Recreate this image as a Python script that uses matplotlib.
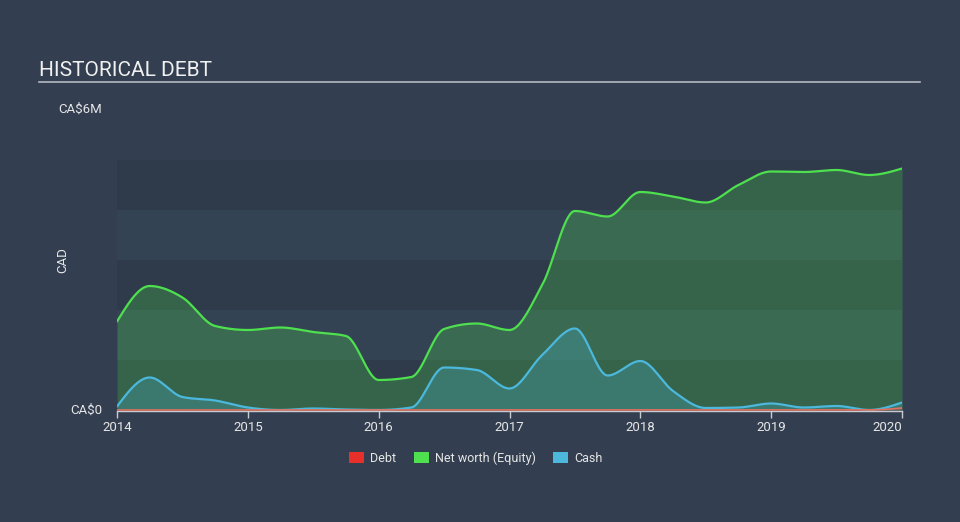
import numpy as np
import matplotlib
matplotlib.use("Agg")
import matplotlib.pyplot as plt
from matplotlib.patches import Rectangle
from matplotlib.lines import Line2D

# ---- data (CA$ millions, quarterly) ----
dates = [2014.0, 2014.25, 2014.5, 2014.75, 2015.0, 2015.25, 2015.5, 2015.75,
         2016.0, 2016.25, 2016.5, 2016.75, 2017.0, 2017.25, 2017.5, 2017.75,
         2018.0, 2018.25, 2018.5, 2018.75, 2019.0, 2019.25, 2019.5, 2019.75, 2020.0]
equity = [1.77, 2.48, 2.25, 1.68, 1.60, 1.65, 1.56, 1.48,
          0.60, 0.66, 1.62, 1.73, 1.60, 2.50, 3.98, 3.87,
          4.36, 4.27, 4.15, 4.50, 4.77, 4.76, 4.80, 4.70, 4.83]
cash = [0.07, 0.65, 0.26, 0.19, 0.05, 0.00, 0.03, 0.01,
        0.00, 0.05, 0.85, 0.80, 0.43, 1.10, 1.63, 0.69,
        0.98, 0.38, 0.04, 0.05, 0.13, 0.05, 0.08, 0.00, 0.15]
debt = [0, 0, 0, 0, 0, 0, 0, 0,
        0, 0, 0, 0, 0, 0, 0, 0,
        0, 0, 0, 0, 0, 0, 0, 0.0, 0.04]
year_ticks = [2014, 2015, 2016, 2017, 2018, 2019, 2020]
legend_labels = ["Debt", "Net worth (Equity)", "Cash"]

BG = "#333f50"
BAND_DARK = "#2f3b4b"
BAND_LIGHT = "#344354"
C_DEBT = "#e8302a"
C_EQ = "#4ee04e"
C_CASH = "#4bb8dc"
TXT = "#e6e6e6"


def monotone(x, y, n=40):
    """d3 curveMonotoneX-style smoothing for drawing."""
    x = np.asarray(x, float); y = np.asarray(y, float)
    h = np.diff(x); s = np.diff(y) / h
    m = np.zeros_like(y)
    for i in range(1, len(y) - 1):
        s0, s1, h0, h1 = s[i - 1], s[i], h[i - 1], h[i]
        p = (s0 * h1 + s1 * h0) / (h0 + h1)
        m[i] = (np.sign(s0) + np.sign(s1)) * min(abs(s0), abs(s1), 0.5 * abs(p))
    m[0] = (3 * s[0] - m[1]) / 2 if len(y) > 2 else s[0]
    m[-1] = (3 * s[-1] - m[-2]) / 2 if len(y) > 2 else s[-1]
    xs, ys = [], []
    for i in range(len(h)):
        t = np.linspace(0, 1, n, endpoint=(i == len(h) - 1))
        h00 = 2 * t**3 - 3 * t**2 + 1
        h10 = t**3 - 2 * t**2 + t
        h01 = -2 * t**3 + 3 * t**2
        h11 = t**3 - t**2
        xs.append(x[i] + t * h[i])
        ys.append(h00 * y[i] + h10 * h[i] * m[i] + h01 * y[i + 1] + h11 * h[i] * m[i + 1])
    return np.concatenate(xs), np.concatenate(ys)


fig = plt.figure(figsize=(9.6, 5.22), dpi=100, facecolor=BG)
plt.rcParams['font.family'] = ['Roboto', 'DejaVu Sans']
W, H = 960, 522
ax = fig.add_axes([117 / W, 1 - 411 / H, (902 - 117) / W, 301 / H])
ax.set_facecolor(BG)
ax.set_xlim(2014, 2020)
ax.set_ylim(-0.02, 6)

# bands
for k in range(5):
    ax.axhspan(k, k + 1, color=BAND_DARK if k % 2 == 0 else BAND_LIGHT, lw=0, zorder=0)

xd, yd = monotone(dates, debt)
xe, ye = monotone(dates, equity)
xc, yc = monotone(dates, cash)

ax.fill_between(xe, 0, ye, color=C_EQ, alpha=0.25, lw=0, zorder=1)
ax.fill_between(xc, 0, yc, color=C_CASH, alpha=0.25, lw=0, zorder=2)
ax.fill_between(xd, 0, yd, color=C_DEBT, alpha=0.25, lw=0, zorder=3)
ax.plot(xe, ye, color=C_EQ, lw=1.6, zorder=4, solid_capstyle='round')
ax.plot(xc, yc, color=C_CASH, lw=1.6, zorder=5, solid_capstyle='round')

for s in ['top', 'right', 'left']:
    ax.spines[s].set_visible(False)
ax.spines['bottom'].set_color("#c8ccd2")
ax.spines['bottom'].set_linewidth(1.0)
ax.spines['bottom'].set_zorder(6)
ax.plot(xd, yd, color="#e0705f", lw=1.2, zorder=7)
ax.set_yticks([])
ax.set_xticks(year_ticks)
ax.set_xticklabels([str(y) for y in year_ticks], color=TXT, fontsize=9.5)
ax.tick_params(axis='x', length=5, width=1, color="#c8ccd2", pad=2)
lbls = ax.get_xticklabels()
lbls[-1].set_horizontalalignment('right')
lbls[-1].set_x(2020.0)

# y labels
fig.text(102 / W, 1 - 410 / H, "CA$0", color=TXT, fontsize=9.5, ha='right', va='center')
fig.text(102 / W, 1 - 109 / H, "CA$6M", color=TXT, fontsize=9.5, ha='right', va='center')
fig.text(62.5 / W, 1 - 260 / H, "CAD", color=TXT, fontsize=9.5, ha='center', va='center', rotation=90)

# title
fig.text(39 / W, 1 - 76 / H, "HISTORICAL DEBT", color="#f0f0f0", fontsize=15, ha='left', va='baseline')
fig.add_artist(Line2D([39 / W, 920 / W], [1 - 82 / H, 1 - 82 / H], color="#b4b9c0", lw=1.2))

# legend
items = [(349, C_DEBT, legend_labels[0]), (414, C_EQ, legend_labels[1]), (553, C_CASH, legend_labels[2])]
for x0, c, lab in items:
    fig.add_artist(Rectangle((x0 / W, 1 - 463 / H), 15 / W, 11 / H, color=c, lw=0))
    fig.text((x0 + 21) / W, 1 - 458 / H, lab, color=TXT, fontsize=9, ha='left', va='center')

fig.savefig("out.png", dpi=100, facecolor=BG)
